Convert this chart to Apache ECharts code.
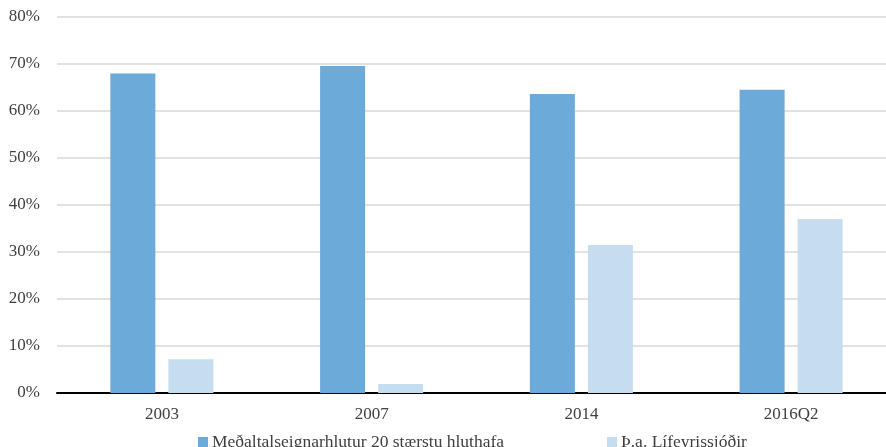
<!DOCTYPE html>
<html><head><meta charset="utf-8">
<script src="https://cdn.jsdelivr.net/npm/echarts@6/dist/echarts.min.js"></script>
<style>html,body{margin:0;padding:0;background:#fff}#c{width:886px;height:447px}</style>
</head><body><div id="c"></div>
<script>
const categories = ['2003', '2007', '2014', '2016Q2'];
const seriesNames = ['Meðaltalseignarhlutur 20 stærstu hluthafa', 'Þ.a. Lífeyrissjóðir'];
const top20 = [68.0, 69.6, 63.6, 64.5];
const pension = [7.2, 1.9, 31.5, 37.0];
const yTicks = [0, 10, 20, 30, 40, 50, 60, 70, 80];

const font = 'Liberation Serif';
const chart = echarts.init(document.getElementById('c'));
chart.setOption({
  animation: false,
  grid: { left: 57, top: 17, right: -10, bottom: 54, containLabel: false, outerBoundsMode: 'none' },
  legend: [
    { data: [seriesNames[0]], left: 193, top: 428, itemWidth: 10, itemHeight: 10, itemGap: 0,
      icon: 'rect', textStyle: { fontFamily: font, fontSize: 17.5, color: '#404040', padding: [0, 0, 0, -1] } },
    { data: [seriesNames[1]], left: 602, top: 428, itemWidth: 10, itemHeight: 10, itemGap: 0,
      icon: 'rect', textStyle: { fontFamily: font, fontSize: 17.5, color: '#404040', padding: [0, 0, 0, -1] } }
  ],
  xAxis: {
    type: 'category', data: categories,
    axisLine: { lineStyle: { color: '#000', width: 2 } },
    axisTick: { show: false },
    axisLabel: { fontFamily: font, fontSize: 17, color: '#404040', margin: 13 }
  },
  yAxis: {
    type: 'value', min: yTicks[0], max: yTicks[yTicks.length - 1], interval: 10,
    axisLine: { show: false }, axisTick: { show: false },
    splitLine: { lineStyle: { color: '#d9d9d9', width: 1.5 } },
    axisLabel: { fontFamily: font, fontSize: 17, color: '#404040', margin: 17, formatter: v => v + '%' }
  },
  series: [
    { name: seriesNames[0], type: 'bar', data: top20, barWidth: 45, barGap: '29%',
      itemStyle: { color: '#6baad9' } },
    { name: seriesNames[1], type: 'bar', data: pension, barWidth: 45,
      itemStyle: { color: '#c6ddf0' } }
  ]
});
</script></body></html>
